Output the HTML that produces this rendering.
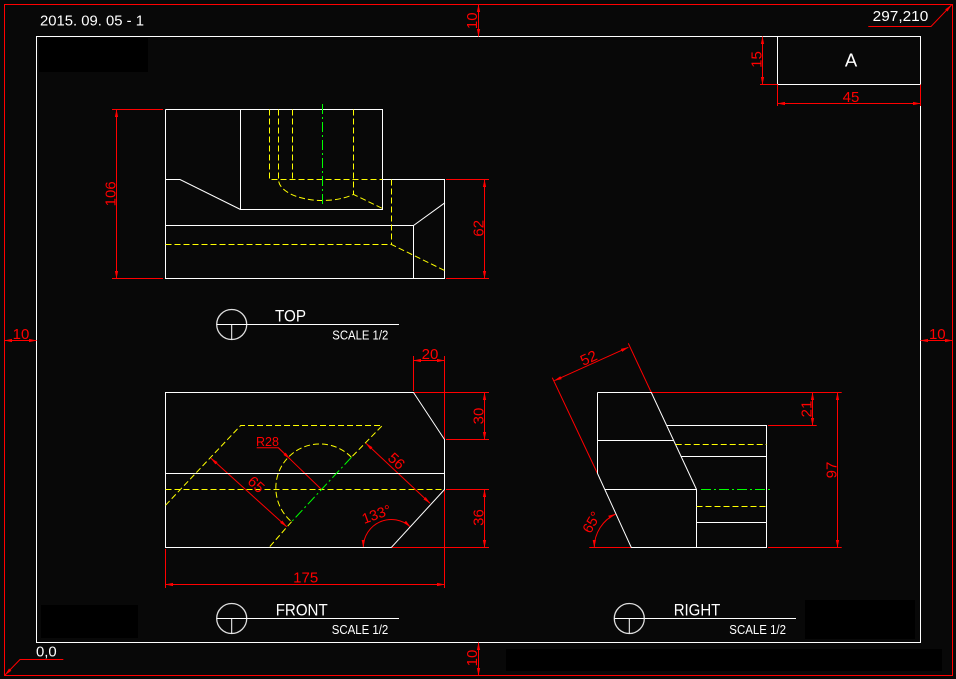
<!DOCTYPE html>
<html><head><meta charset="utf-8"><style>
html,body{margin:0;padding:0;background:#080808;}
svg{display:block;}
text{font-family:"Liberation Sans","DejaVu Sans",sans-serif;}
</style></head><body>
<svg width="956" height="679" viewBox="0 0 956 679" xmlns="http://www.w3.org/2000/svg">
<defs>
<marker id="ar" markerUnits="userSpaceOnUse" markerWidth="8" markerHeight="4" refX="7.5" refY="2" orient="auto-start-reverse" viewBox="0 0 8 4"><path d="M0,0.4 L8,2 L0,3.6z" fill="#f00"/></marker>
</defs>
<rect width="956" height="679" fill="#080808"/>
<g fill="#000">
<rect x="39" y="38" width="109" height="34"/>
<rect x="41" y="605" width="97" height="33"/>
<rect x="805" y="600" width="110" height="39"/>
<rect x="506" y="649" width="436" height="22"/>
</g>
<rect x="4.5" y="4.5" width="948" height="671" fill="none" stroke="#f00" stroke-width="1"/>
<rect x="36.5" y="36.5" width="884" height="606" fill="none" stroke="#fff" stroke-width="1"/>
<path d="M777.5,36.5 V84.5 H920.5" fill="none" stroke="#fff"/>

<g fill="none" stroke="#f00" stroke-width="1">
<path d="M760,84.5 H777.5 M777.5,84.5 V106 M920.5,84.5 V106"/>
<path d="M112,109.5 H163 M112,278.5 H163 M446,179.5 H489 M446,278.5 H489"/>
<path d="M413.5,356 V391 M444.5,356 V588 M414,392.5 H489 M446,439.5 H489 M446,489.5 H489 M392,547.5 H489 M165.5,549 V588"/>
<path d="M256.7,447.7 H278.3 L321.5,489.5"/>
<path d="M651.3,392.5 H841.7 M768,425.5 H816.7 M768,547.5 H841.7 M589.3,547.5 H631.3 M552.3,377.7 L597.5,473.5 M628.3,343.3 L651.3,392.5"/>
</g>
<g fill="none" stroke="#f00" stroke-width="1" marker-start="url(#ar)" marker-end="url(#ar)">
<path d="M478.5,4.5 V36.5"/>
<path d="M478.5,642.5 V675.5"/>
<path d="M4.5,340.5 H36.5"/>
<path d="M920.5,340.5 H952.5"/>
<path d="M762.5,36.5 V84.5"/>
<path d="M777.5,103.5 H920.5"/>
<path d="M116.5,109.5 V278.5"/>
<path d="M484.5,179.5 V278.5"/>
<path d="M413.5,360.5 H444.5"/>
<path d="M484.5,392.5 V439.5"/>
<path d="M484.5,489.5 V547.5"/>
<path d="M165.5,584.5 H444.5"/>
<path d="M211,458.3 L286.7,526.7"/>
<path d="M366,443.3 L430,503.3"/>
<path d="M363.3,547.5 A28,28 0 0 1 410.4,527"/>
<path d="M812.5,392.5 V425.5"/>
<path d="M837.5,392.5 V547.5"/>
<path d="M554.3,380.7 L628.3,347.3"/>
<path d="M594.3,547.5 A37,37 0 0 1 615.7,514"/>
</g>
<g fill="none" stroke="#f00" stroke-width="1" marker-end="url(#ar)">
<path d="M278.3,447.7 L289.9,458.9"/>
<path d="M868.3,26.5 H931 L951.5,5"/>
<path d="M63.3,659.5 H20 L5,675"/>
</g>

<g fill="none" stroke="#fff" stroke-width="1">
<path d="M165.5,109.5 H382.5 V209.5 H240.5 V109.5"/>
<path d="M165.5,109.5 V278.5 H444.5 V179.5 H382.5"/>
<path d="M165.5,179.5 H180 L240.5,209.5"/>
<path d="M165.5,225.5 H413.5 L445,202.7"/>
<path d="M413.5,225.5 V278.5"/>
<path d="M165.5,392.5 H413.5 L444.5,439.5 V489.5 L391.3,547.5 H165.5 Z"/>
<path d="M165.5,473.5 H444.5"/>
<path d="M597.5,392.5 H651.3 L696.5,489.5"/>
<path d="M597.5,392.5 V473.5 L631.3,547.5 H766.5 V425.5 H666.8"/>
<path d="M597.5,440.5 H673.8"/>
<path d="M604.8,489.5 H696.5 V547.5"/>
<path d="M681.3,456.5 H766.5"/>
<path d="M696.5,522.5 H766.5"/>
</g>
<g fill="none" stroke="#ff0" stroke-width="1" stroke-dasharray="6,3">
<path d="M269.5,109.5 V179.5 H382.5"/>
<path d="M278.5,109.5 V179.5 A44,21 0 0 0 353.5,194.4 L382.5,208.5"/>
<path d="M292.5,109.5 V179.5"/>
<path d="M353.5,109.5 V194.4"/>
<path d="M391.5,179.5 V244.5"/>
<path d="M165.5,244.5 H391.5 L445,270.7"/>
<path d="M165.5,489.5 H444.5"/>
<path d="M165.5,505.3 L240.7,425.5 H382.3 L351.4,457.3"/>
<path d="M291.6,521.7 L269,547.5"/>
<path d="M351.4,457.3 A44,44 0 1 0 291.6,521.7"/>
<path d="M675.7,444.5 H766.5"/>
<path d="M696.5,506.5 H766.5"/>
</g>
<g fill="none" stroke="#0f0" stroke-width="1" stroke-dasharray="10,3,2,3">
<path d="M322.5,104 V206"/>
<path d="M351.4,457.3 L291.6,521.7"/>
<path d="M701,489.5 H772"/>
</g>

<g fill="none" stroke="#ddd" stroke-width="1.3">
<circle cx="231.7" cy="324.5" r="15"/>
<circle cx="231.7" cy="618.5" r="15"/>
<circle cx="629.3" cy="618.5" r="15"/>
</g>
<g fill="none" stroke="#fff" stroke-width="1">
<path d="M216.7,324.5 H399 M231.7,324.5 V339.5"/>
<path d="M216.7,618.5 H399 M231.7,618.5 V633.5"/>
<path d="M614.3,618.5 H796 M629.3,618.5 V633.5"/>
</g>

<g fill="#fff">
<text x="40" y="25.7" font-size="14.5" textLength="104" lengthAdjust="spacingAndGlyphs">2015. 09. 05 - 1</text>
<text x="872.7" y="21" font-size="14.5" textLength="55.6" lengthAdjust="spacingAndGlyphs">297,210</text>
<text x="36" y="656.7" font-size="14.5" textLength="20.7" lengthAdjust="spacingAndGlyphs">0,0</text>
<text x="851" y="66.7" font-size="18.5" text-anchor="middle">A</text>
<text x="275" y="321.7" font-size="17" textLength="31" lengthAdjust="spacingAndGlyphs">TOP</text>
<text x="332.3" y="339.3" font-size="12.5" textLength="56" lengthAdjust="spacingAndGlyphs">SCALE 1/2</text>
<text x="275.7" y="615.3" font-size="16.5" textLength="52" lengthAdjust="spacingAndGlyphs">FRONT</text>
<text x="331.7" y="634" font-size="12.5" textLength="56.6" lengthAdjust="spacingAndGlyphs">SCALE 1/2</text>
<text x="673.7" y="615.3" font-size="16.5" textLength="46.6" lengthAdjust="spacingAndGlyphs">RIGHT</text>
<text x="729.3" y="634" font-size="12.5" textLength="56.7" lengthAdjust="spacingAndGlyphs">SCALE 1/2</text>
</g>

<g fill="#f00" font-size="15" text-anchor="middle">
<text transform="translate(477,20.8) rotate(-90)">10</text>
<text transform="translate(477,658) rotate(-90)">10</text>
<text x="21" y="339">10</text>
<text x="937.3" y="339">10</text>
<text transform="translate(761.5,59.5) rotate(-90)">15</text>
<text x="851" y="102">45</text>
<text transform="translate(115.5,193.8) rotate(-90)">106</text>
<text transform="translate(483.5,228.3) rotate(-90)">62</text>
<text x="430" y="359">20</text>
<text transform="translate(483.5,416) rotate(-90)">30</text>
<text transform="translate(483.5,517.5) rotate(-90)">36</text>
<text x="305.7" y="582.5">175</text>
<text transform="translate(252.8,488.2) rotate(42)">65</text>
<text transform="translate(393,464.8) rotate(43)">56</text>
<text transform="translate(378.2,518.9) rotate(-20)" font-size="14.5">133°</text>
<text transform="translate(590.7,362.6) rotate(-24.3)">52</text>
<text transform="translate(811.5,409) rotate(-90)">21</text>
<text transform="translate(836.5,470) rotate(-90)">97</text>
<text transform="translate(595.8,524.7) rotate(-60)" font-size="14.5">65°</text>
<text x="267.5" y="446" font-size="12.5">R28</text>
</g>
</svg>
</body></html>
